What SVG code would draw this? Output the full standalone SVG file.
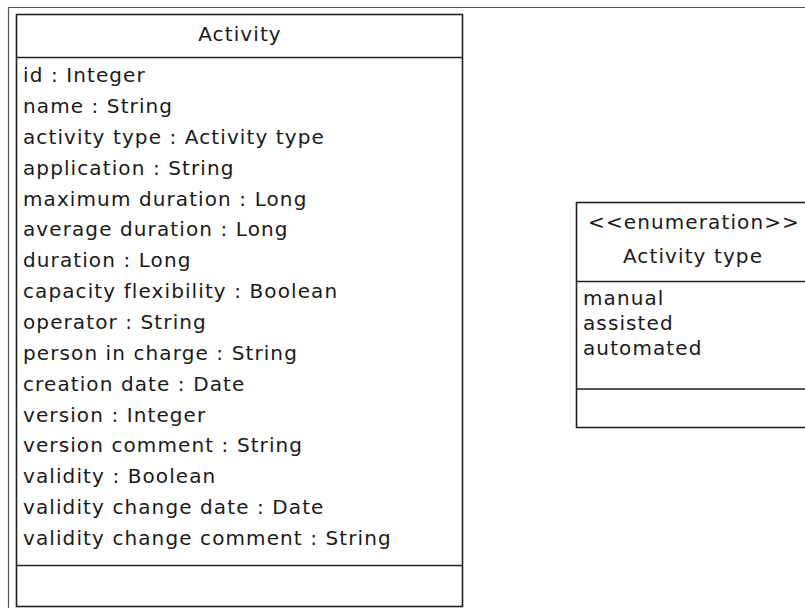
<svg xmlns="http://www.w3.org/2000/svg" width="805" height="608" viewBox="0 0 805 608">
<style>
.box{fill:#fff;stroke:#222;stroke-width:1.6}
.sep{stroke:#222;stroke-width:1.6}
.frame{fill:none;stroke:#555;stroke-width:1.2}
text{font-family:"DejaVu Sans","Liberation Sans",sans-serif;font-size:20px;letter-spacing:1.1px;fill:#1a1a1a}
.c{text-anchor:middle}
</style>
<rect width="805" height="608" fill="#fff"/>
<path class="frame" d="M8.5,608 V7.5 H805"/>
<g id="activity">
<rect class="box" x="16.5" y="14.5" width="446" height="592"/>
<line class="sep" x1="16.5" y1="57.5" x2="462.5" y2="57.5"/>
<line class="sep" x1="16.5" y1="565.5" x2="462.5" y2="565.5"/>
<text class="c" x="240" y="41">Activity</text>
<text x="23" y="82">id : Integer</text>
<text x="23" y="112.9">name : String</text>
<text x="23" y="143.7">activity type : Activity type</text>
<text x="23" y="174.6">application : String</text>
<text x="23" y="205.5">maximum duration : Long</text>
<text x="23" y="236.4">average duration : Long</text>
<text x="23" y="267.2">duration : Long</text>
<text x="23" y="298.1">capacity flexibility : Boolean</text>
<text x="23" y="329">operator : String</text>
<text x="23" y="359.8">person in charge : String</text>
<text x="23" y="390.7">creation date : Date</text>
<text x="23" y="421.6">version : Integer</text>
<text x="23" y="452.4">version comment : String</text>
<text x="23" y="483.3">validity : Boolean</text>
<text x="23" y="514.2">validity change date : Date</text>
<text x="23" y="545">validity change comment : String</text>
</g>
<g id="activity-type">
<rect class="box" x="576.5" y="202.5" width="232" height="225"/>
<line class="sep" x1="576.5" y1="281.5" x2="808" y2="281.5"/>
<line class="sep" x1="576.5" y1="389" x2="808" y2="389"/>
<text class="c" x="694" y="229">&lt;&lt;enumeration&gt;&gt;</text>
<text class="c" x="693" y="263">Activity type</text>
<text x="583" y="305">manual</text>
<text x="583" y="330">assisted</text>
<text x="583" y="355">automated</text>
</g>
<g id="connectors"/>
</svg>
